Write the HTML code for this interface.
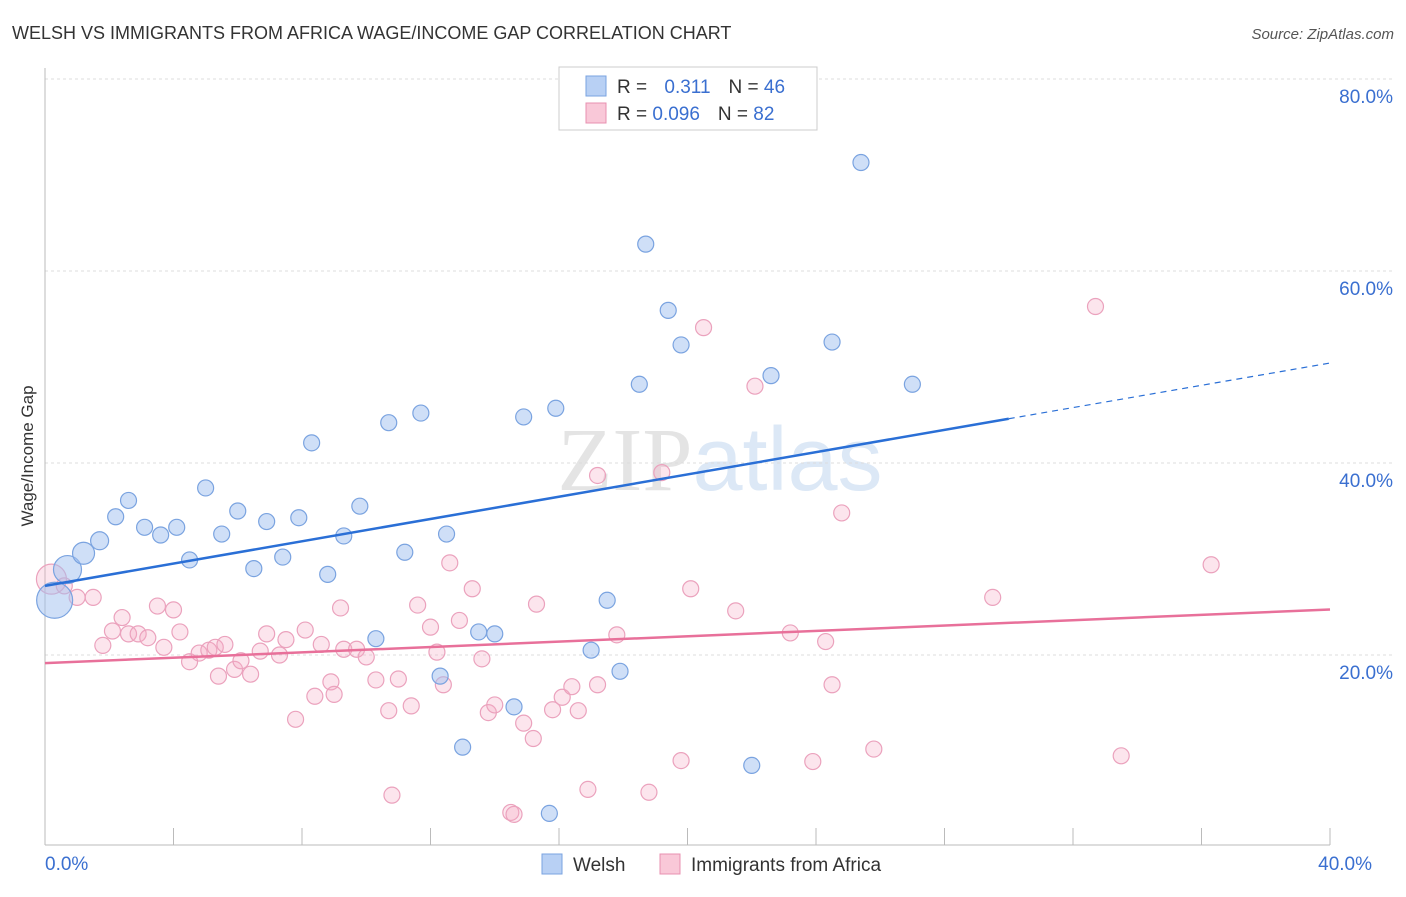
<!DOCTYPE html>
<html><head><meta charset="utf-8"><style>
body{margin:0;background:#fff;font-family:"Liberation Sans",sans-serif}
</style></head><body>
<svg id="chart" width="1406" height="892" xmlns="http://www.w3.org/2000/svg" font-family="Liberation Sans, sans-serif">
<text x="12" y="39" font-size="18" fill="#333">WELSH VS IMMIGRANTS FROM AFRICA WAGE/INCOME GAP CORRELATION CHART</text>
<text x="1394" y="39" font-size="15" fill="#555" text-anchor="end" font-style="italic">Source: ZipAtlas.com</text>
<text x="720" y="490" font-size="90" fill="#e4e4e4" text-anchor="middle" font-family="Liberation Serif, serif">ZIP<tspan fill="#dce8f6" font-family="Liberation Sans, sans-serif">atlas</tspan></text>
<g id="grid"></g>
<g id="axes"></g>
<g id="pts"></g>
<g id="lines"></g>
<text transform="translate(33,456) rotate(-90)" font-size="17" fill="#333" text-anchor="middle">Wage/Income Gap</text>
<g>
<rect x="559" y="67" width="258" height="63" fill="#fff" stroke="#ccc"/>
<rect x="586" y="76" width="20" height="20" fill="#b8d0f4" stroke="#7aa3e0"/>
<rect x="586" y="103" width="20" height="20" fill="#f9c8d8" stroke="#e890b0"/>
<text x="617" y="93" font-size="19" fill="#333">R = <tspan fill="#3a6fd0" dx="12">0.311</tspan><tspan dx="18" fill="#333">N = </tspan><tspan fill="#3a6fd0">46</tspan></text>
<text x="617" y="120" font-size="19" fill="#333">R = <tspan fill="#3a6fd0">0.096</tspan><tspan dx="18" fill="#333">N = </tspan><tspan fill="#3a6fd0">82</tspan></text>
</g>
<g>
<rect x="542" y="854" width="20" height="20" fill="#b8d0f4" stroke="#7aa3e0"/>
<text x="573" y="871" font-size="19" fill="#333">Welsh</text>
<rect x="660" y="854" width="20" height="20" fill="#f9c8d8" stroke="#e890b0"/>
<text x="691" y="871" font-size="19" fill="#333">Immigrants from Africa</text>
</g>
</svg>
<script>
const yTicks=[20,40,60,80];
const xTickLabels=["0.0%","40.0%"];
const welshX=[0.3,0.7,1.2,1.7,2.2,2.6,3.1,3.6,4.1,4.5,5.0,5.5,6.0,6.5,6.9,7.4,7.9,8.3,8.8,9.3,9.8,10.3,10.7,11.2,11.7,12.3,12.5,13.0,13.5,14.0,14.6,14.9,15.7,15.9,17.0,17.5,17.9,18.5,18.7,19.4,19.8,22.0,22.6,24.5,25.4,27.0];
const welshY=[25.7,28.9,30.6,31.9,34.4,36.1,33.3,32.5,33.3,29.9,37.4,32.6,35.0,29.0,33.9,30.2,34.3,42.1,28.4,32.4,35.5,21.7,44.2,30.7,45.2,17.8,32.6,10.4,22.4,22.2,14.6,44.8,3.5,45.7,20.5,25.7,18.3,48.2,62.8,55.9,52.3,8.5,49.1,52.6,71.3,48.2];
const welshR=[18,14,11,9,8,8,8,8,8,8,8,8,8,8,8,8,8,8,8,8,8,8,8,8,8,8,8,8,8,8,8,8,8,8,8,8,8,8,8,8,8,8,8,8,8,8];
const afrX=[0.2,0.6,1.0,1.5,1.8,2.1,2.4,2.6,2.9,3.2,3.5,3.7,4.0,4.2,4.5,4.8,5.1,5.3,5.6,5.9,6.1,6.4,6.7,6.9,7.3,7.5,7.8,8.1,8.4,8.6,8.9,9.2,9.3,9.7,10.0,10.3,10.7,10.8,11.0,11.4,11.6,12.0,12.2,12.4,12.6,12.9,13.3,13.6,13.8,14.0,14.5,14.6,14.9,15.2,15.3,15.8,16.1,16.4,16.6,16.9,17.2,17.2,17.8,18.8,19.2,19.8,20.1,20.5,21.5,22.1,23.2,23.9,24.3,24.5,24.8,25.8,29.5,32.7,33.5,36.3,5.4,9.0];
const afrY=[27.9,27.2,26.0,26.0,21.0,22.5,23.9,22.2,22.2,21.8,25.1,20.8,24.7,22.4,19.3,20.2,20.5,20.8,21.1,18.5,19.4,18.0,20.4,22.2,20.0,21.6,13.3,22.6,15.7,21.1,17.2,24.9,20.6,20.6,19.8,17.4,14.2,5.4,17.5,14.7,25.2,22.9,20.3,16.9,29.6,23.6,26.9,19.6,14.0,14.8,3.6,3.4,12.9,11.3,25.3,14.3,15.6,16.7,14.2,6.0,16.9,38.7,22.1,5.7,39.0,9.0,26.9,54.1,24.6,48.0,22.3,8.9,21.4,16.9,34.8,10.2,26.0,56.3,9.5,29.4,17.8,15.9];
const xS=v=>45+v/40*1285, yS=v=>847-v/80*768;
const NS="http://www.w3.org/2000/svg";
function mk(tag,attrs,parent){const e=document.createElementNS(NS,tag);for(const k in attrs)e.setAttribute(k,attrs[k]);document.getElementById(parent).appendChild(e);return e;}
yTicks.forEach(t=>{
 const g=mk('line',{x1:45,x2:1394,y1:yS(t),y2:yS(t),stroke:'#ddd','stroke-dasharray':'3,3'},'grid');
 
 
 const tx=mk('text',{x:1393,y:yS(t)+24,'font-size':19,fill:'#3a6fd0','text-anchor':'end'},'grid');
 tx.textContent=t.toFixed(1)+'%';
 
 
});
const ax=mk('line',{x1:45,x2:45,y1:68,y2:845,stroke:'#bbb'},'axes');


const bx=mk('line',{x1:45,x2:1330,y1:845,y2:845,stroke:'#bbb'},'axes');


for(let i=1;i<=10;i++){const t=mk('line',{x1:xS(i*4),x2:xS(i*4),y1:828,y2:845,stroke:'#bbb'},'axes');
 
 }
[[0,68,'start'],[40,1394,'end']].forEach((d,i)=>{const t=mk('text',{x:d[1]-22+(i?0:22)-0,y:870,'font-size':19,fill:'#3a6fd0','text-anchor':d[2]},'axes');t.textContent=xTickLabels[i];
 if(i===0)t.setAttribute('x',45);
 
 });
afrX.forEach((x,i)=>{const c=mk('circle',{cx:xS(x),cy:yS(afrY[i]),r:i===0?15:8,fill:'rgba(245,170,195,0.3)',stroke:'#eba2bd','stroke-width':1.2},'pts');
 
 });
welshX.forEach((x,i)=>{const c=mk('circle',{cx:xS(x),cy:yS(welshY[i]),r:welshR[i],fill:'rgba(160,192,240,0.5)',stroke:'#7aa3e0','stroke-width':1.2},'pts');
 
 });
function fit(X,Y){const n=X.length;let mx=0,my=0;X.forEach((v,i)=>{mx+=v;my+=Y[i];});mx/=n;my/=n;let sxy=0,sxx=0;X.forEach((v,i)=>{sxy+=(v-mx)*(Y[i]-my);sxx+=(v-mx)**2;});const b=sxy/sxx;return [my-b*mx,b];}
const [wa,wb]=fit(welshX,welshY),[pa,pb]=fit(afrX,afrY);
const l1=mk('line',{x1:xS(0),y1:yS(wa),x2:xS(30),y2:yS(wa+wb*30),stroke:'#2a6fd6','stroke-width':2.5},'lines');


const l2=mk('line',{x1:xS(30),y1:yS(wa+wb*30),x2:xS(40),y2:yS(wa+wb*40),stroke:'#2a6fd6','stroke-width':1.2,'stroke-dasharray':'6,5'},'lines');


const l3=mk('line',{x1:xS(0),y1:yS(pa),x2:xS(40),y2:yS(pa+pb*40),stroke:'#e8709a','stroke-width':2.5},'lines');


</script>
</body></html>
